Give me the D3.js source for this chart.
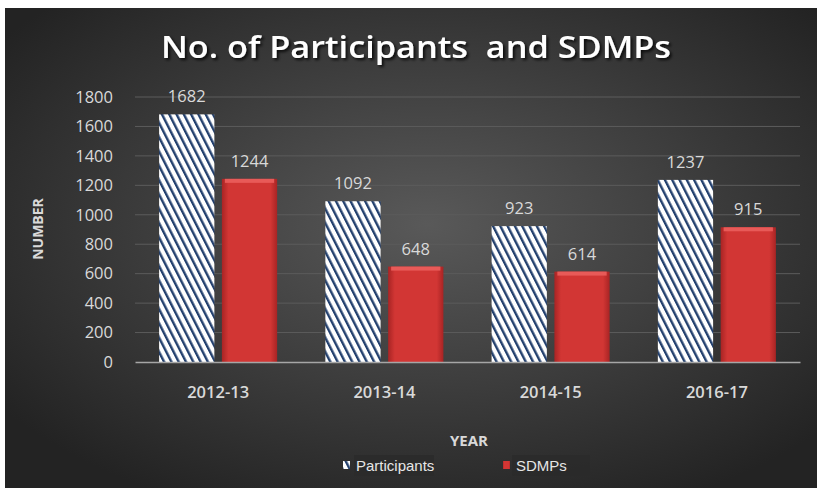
<!DOCTYPE html>
<html>
<head>
<meta charset="utf-8">
<script src="https://cdn.jsdelivr.net/npm/d3@7"></script>
<style>
  body { margin: 0; background: #fff; }
  svg { display: block; }
</style>
</head>
<body>
<div id="chart"></div>
<script>
const years = ['2012-13', '2013-14', '2014-15', '2016-17'];
const participants = [1682, 1092, 923, 1237];
const sdmps = [1244, 648, 614, 915];
const seriesNames = ['Participants', 'SDMPs'];
const yTicks = [0, 200, 400, 600, 800, 1000, 1200, 1400, 1600, 1800];

const W = 817, H = 488;
const margin = { top: 97, right: 17, bottom: 126, left: 135 };
const WIDTH = W - margin.left - margin.right;
const HEIGHT = H - margin.top - margin.bottom;

const svg = d3.select('#chart').append('svg').attr('width', W).attr('height', H);
const defs = svg.append('defs');

// background gradient
const bg = defs.append('radialGradient').attr('id', 'bg')
  .attr('cx', '52%').attr('cy', '45%').attr('r', '65%');
bg.append('stop').attr('offset', '0%').attr('stop-color', '#595959');
bg.append('stop').attr('offset', '100%').attr('stop-color', '#232323');

// hatch pattern for participants
const hatch = defs.append('pattern').attr('id', 'hatch')
  .attr('patternUnits', 'userSpaceOnUse')
  .attr('width', 6.5).attr('height', 6.5)
  .attr('patternTransform', 'rotate(-27)');
hatch.append('rect').attr('width', 6.5).attr('height', 6.5).attr('fill', '#ffffff');
hatch.append('rect').attr('width', 2.4).attr('height', 6.5).attr('fill', '#23406e');

// red bar gradient
const red = defs.append('linearGradient').attr('id', 'red').attr('x1', 0).attr('x2', 1);
red.append('stop').attr('offset', '0%').attr('stop-color', '#a82424');
red.append('stop').attr('offset', '12%').attr('stop-color', '#d23634');
red.append('stop').attr('offset', '88%').attr('stop-color', '#d23634');
red.append('stop').attr('offset', '100%').attr('stop-color', '#a82424');

const shadow = defs.append('filter').attr('id', 'shadow')
  .attr('x', '-10%').attr('y', '-10%').attr('width', '120%').attr('height', '130%');
shadow.append('feDropShadow').attr('dx', 2).attr('dy', 2)
  .attr('stdDeviation', 1.5).attr('flood-color', '#000').attr('flood-opacity', 0.8);

svg.append('rect').attr('x', 5).attr('y', 8).attr('width', W - 5).attr('height', H - 8)
  .attr('fill', 'url(#bg)');

// title
svg.append('text')
  .attr('x', 416).attr('y', 58)
  .attr('text-anchor', 'middle')
  .attr('fill', '#ffffff')
  .attr('filter', 'url(#shadow)')
  .style('font-family', 'Open Sans, sans-serif')
  .style('font-weight', '600')
  .style('font-size', '30px')
  .attr('textLength', 510)
  .attr('lengthAdjust', 'spacingAndGlyphs')
  .attr('xml:space', 'preserve')
  .text('No. of Participants  and SDMPs');

const g = svg.append('g').attr('transform', `translate(${margin.left},${margin.top})`);

const x0 = d3.scaleBand().domain(years).range([0, WIDTH]).paddingInner(0.29).paddingOuter(0.145);
const x1 = d3.scaleBand().domain(seriesNames).range([0, x0.bandwidth()]).paddingInner(0.12);
const y = d3.scaleLinear().domain([0, 1800]).range([HEIGHT, 0]);

// gridlines
g.append('g')
  .selectAll('line')
  .data(yTicks.slice(1))
  .enter()
  .append('line')
  .attr('x1', 0).attr('x2', WIDTH)
  .attr('y1', d => y(d)).attr('y2', d => y(d))
  .attr('stroke', '#5c5c5c').attr('stroke-width', 1);

// y axis labels
const yAxis = d3.axisLeft(y).tickValues(yTicks).tickFormat(d3.format('d')).tickSize(0).tickPadding(22);
const yg = g.append('g').call(yAxis);
yg.select('.domain').remove();
yg.selectAll('text')
  .attr('fill', '#d9d9d9')
  .style('font-family', 'Open Sans, sans-serif')
  .style('font-size', '16.5px');

// bars
const data = years.map((yr, i) => ({ year: yr, vals: [participants[i], sdmps[i]] }));
const groups = g.selectAll('.grp').data(data).enter().append('g')
  .attr('transform', d => `translate(${x0(d.year)},0)`);

groups.selectAll('rect')
  .data(d => d.vals.map((v, i) => ({ key: seriesNames[i], v })))
  .enter()
  .append('rect')
  .attr('x', d => x1(d.key))
  .attr('y', d => y(d.v))
  .attr('width', x1.bandwidth())
  .attr('height', d => HEIGHT - y(d.v))
  .attr('fill', d => d.key === 'Participants' ? 'url(#hatch)' : 'url(#red)');

// top bevel on red bars
groups.selectAll('.bevel')
  .data(d => [{ key: 'SDMPs', v: d.vals[1] }])
  .enter()
  .append('rect')
  .attr('x', d => x1(d.key) + 3)
  .attr('y', d => y(d.v))
  .attr('width', x1.bandwidth() - 6)
  .attr('height', 4)
  .attr('fill', '#e85a58');

// value labels
groups.selectAll('.lbl')
  .data(d => d.vals.map((v, i) => ({ key: seriesNames[i], v })))
  .enter()
  .append('text')
  .attr('x', d => x1(d.key) + x1.bandwidth() / 2)
  .attr('y', d => y(d.v) - 12)
  .attr('text-anchor', 'middle')
  .attr('fill', '#d9d9d9')
  .style('font-family', 'Open Sans, sans-serif')
  .style('font-size', '16.5px')
  .text(d => d.v);

// x axis
const xAxis = d3.axisBottom(x0).tickSize(0).tickPadding(24);
const xg = g.append('g').attr('transform', `translate(0,${HEIGHT})`).call(xAxis);
xg.select('.domain').attr('stroke', '#a6a6a6').attr('stroke-width', 1.5);
xg.selectAll('text')
  .attr('fill', '#d9d9d9')
  .style('font-family', 'Open Sans, sans-serif')
  .style('font-weight', '600')
  .style('font-size', '16.5px');

// axis titles
svg.append('text')
  .attr('x', 469).attr('y', 446)
  .attr('text-anchor', 'middle')
  .attr('fill', '#d9d9d9')
  .style('font-family', 'Open Sans, sans-serif')
  .style('font-weight', 'bold')
  .style('font-size', '15px')
  .text('YEAR');

svg.append('text')
  .attr('transform', 'translate(43,229) rotate(-90)')
  .attr('text-anchor', 'middle')
  .attr('fill', '#d9d9d9')
  .style('font-family', 'Open Sans, sans-serif')
  .style('font-weight', 'bold')
  .style('font-size', '14px')
  .text('NUMBER');

// legend
const legend = svg.append('g');
const legItems = [
  { name: seriesNames[0], fill: 'url(#hatch)', ix: 343, bx: 354, bw: 80 },
  { name: seriesNames[1], fill: 'url(#red)', ix: 503, bx: 512, bw: 78 }
];
legItems.forEach(d => {
  legend.append('rect').attr('x', d.bx).attr('y', 455).attr('width', d.bw).attr('height', 21)
    .attr('fill', '#2a2a2a').attr('opacity', 0.8);
  legend.append('rect').attr('x', d.ix).attr('y', 461).attr('width', 7).attr('height', 8)
    .attr('fill', d.fill);
  legend.append('text')
    .attr('x', d.ix + 13).attr('y', 471)
    .attr('fill', '#e6e6e6')
    .style('font-family', 'Liberation Sans, Arial, sans-serif')
    .style('font-size', '15px')
    .text(d.name);
});
</script>
</body>
</html>
